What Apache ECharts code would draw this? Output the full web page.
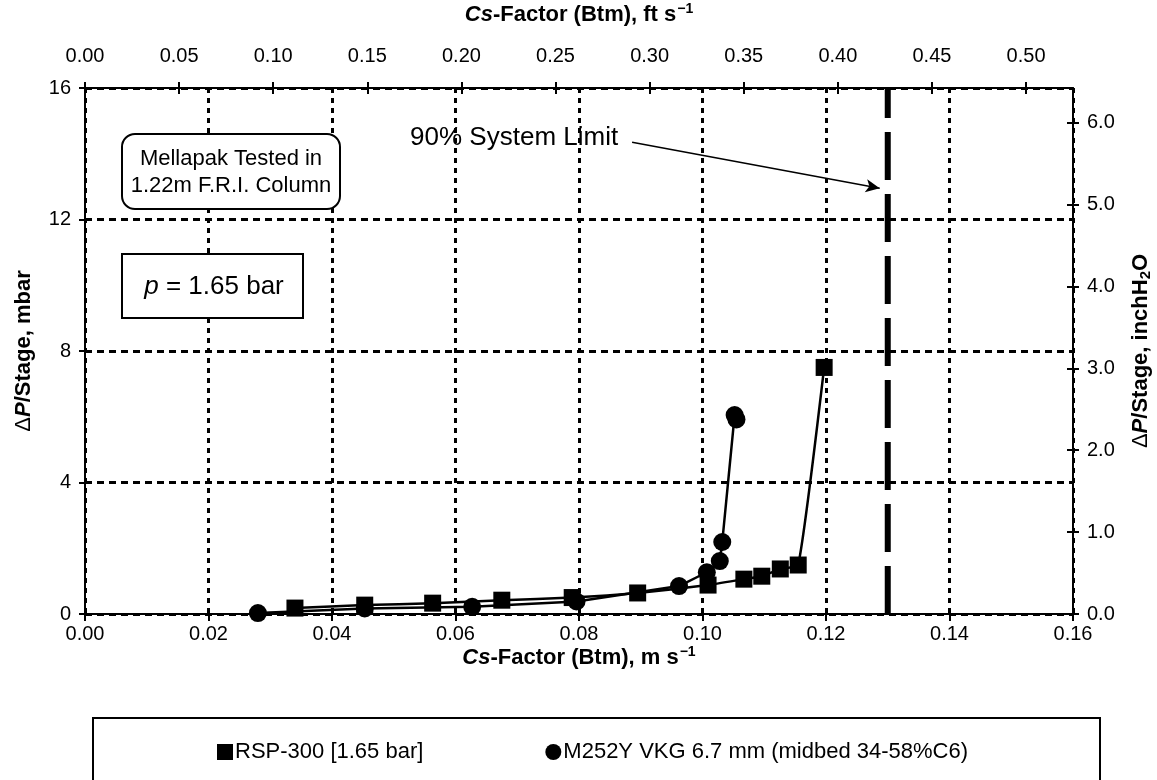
<!DOCTYPE html>
<html><head><meta charset="utf-8">
<script src="https://cdn.jsdelivr.net/npm/echarts@6/dist/echarts.min.js"></script>
<style>html,body{margin:0;padding:0;background:#fff}#c{width:1157px;height:780px}</style>
</head><body><div id="c"></div>
<script>
// ---- data ----
const rspX = [0.0340, 0.0453, 0.0563, 0.0675, 0.0789, 0.0895, 0.1009, 0.1067, 0.1096, 0.1126, 0.1155, 0.1197];
const rspY = [0.18, 0.27, 0.33, 0.42, 0.50, 0.64, 0.88, 1.06, 1.15, 1.37, 1.49, 7.50];
const m252X = [0.0280, 0.0453, 0.0627, 0.0796, 0.0962, 0.1007, 0.1028, 0.1032, 0.1052, 0.1055];
const m252Y = [0.03, 0.17, 0.22, 0.38, 0.85, 1.27, 1.61, 2.19, 6.05, 5.92];
const seriesNames = ['RSP-300 [1.65 bar]', 'M252Y VKG 6.7 mm (midbed 34-58%C6)'];
const systemLimitCs = 0.13;            // m/s
const systemLimitLabel = '90% System Limit';
const arrowFrom = [0.0886, 14.35];     // data coords (m/s, mbar)
const arrowTo = [0.1287, 12.95];
const xMin = 0, xMax = 0.16, xStep = 0.02;
const yMin = 0, yMax = 16, yStep = 4;
const msToFts = 3.28084;
const mbarToInH2O = 0.401463;
const topStep = 0.05, rightStep = 1;
const noteLines = ['Mellapak Tested in', '1.22m F.R.I. Column'];
const pressureNote = ['p', ' = 1.65 bar'];

const F = '"Liberation Sans", Arial, sans-serif';
const zip = (a, b) => a.map((v, i) => [v, b[i]]);
const chart = echarts.init(document.getElementById('c'), null, {renderer: 'canvas'});

const black = '#000';
const axisLineS = {show: true, onZero: false, lineStyle: {color: black, width: 2}};
const labelS = {color: black, fontFamily: F, fontSize: 20};
const TS = 22;
const titleRich = {
  i: {fontFamily: F, fontSize: TS, fontWeight: 'bold', fontStyle: 'italic', color: black},
  b: {fontFamily: F, fontSize: TS, fontWeight: 'bold', color: black},
  d: {fontFamily: F, fontSize: TS, color: black},
  s: {fontFamily: F, fontSize: 14, fontWeight: 'bold', color: black, padding: [0, 0, 12, 1]},
  u: {fontFamily: F, fontSize: 15, fontWeight: 'bold', color: black, padding: [10, 0, 0, 0]}
};
const gridBox = {left: 85, right: 84, top: 88, bottom: 166, outerBoundsMode: 'none'};
const innerTick = {show: true, inside: true, length: 6, lineStyle: {color: black, width: 2}};

const option = {
  backgroundColor: '#fff',
  animation: false,
  grid: [Object.assign({}, gridBox), Object.assign({}, gridBox)],
  legend: {
    left: 212, top: 736, itemWidth: 16, itemHeight: 16, itemGap: 122,
    textStyle: {fontFamily: F, fontSize: 22, color: black, padding: [0, 0, 0, -3]},
    data: [{name: seriesNames[0], icon: 'rect'}, {name: seriesNames[1], icon: 'circle'}]
  },
  xAxis: [
    {
      type: 'value', gridIndex: 0, position: 'bottom', min: xMin, max: xMax, interval: xStep,
      axisLine: axisLineS,
      axisTick: {show: true, length: 7, lineStyle: {color: black, width: 2}},
      axisLabel: Object.assign({formatter: v => v.toFixed(2), margin: 10}, labelS),
      splitLine: {show: true, lineStyle: {color: black, width: 3, type: [5, 5]}},
      name: '{i|Cs}{b|-Factor (Btm), m s}{s|−1}', nameLocation: 'middle', nameGap: 31,
      nameMoveOverlap: false,
      nameTextStyle: {rich: titleRich}
    },
    {
      type: 'value', gridIndex: 0, position: 'top', min: 0, max: xMax * msToFts, interval: topStep,
      axisLine: axisLineS,
      axisTick: {show: true, length: 6, lineStyle: {color: black, width: 2}},
      axisLabel: Object.assign({formatter: v => v.toFixed(2), margin: 22, showMaxLabel: false}, labelS),
      splitLine: {show: false},
      name: '{i|Cs}{b|-Factor (Btm), ft s}{s|−1}', nameLocation: 'middle', nameGap: 60,
      nameTextStyle: {rich: titleRich}
    },
    {
      type: 'value', gridIndex: 1, position: 'top', min: 0, max: xMax * msToFts, interval: topStep,
      axisLine: {show: false, onZero: false}, axisTick: innerTick,
      axisLabel: {show: false}, splitLine: {show: false}
    }
  ],
  yAxis: [
    {
      type: 'value', gridIndex: 0, position: 'left', min: yMin, max: yMax, interval: yStep,
      axisLine: axisLineS,
      axisTick: {show: true, length: 6, lineStyle: {color: black, width: 2}},
      axisLabel: Object.assign({margin: 14}, labelS),
      splitLine: {show: true, lineStyle: {color: black, width: 3, type: [7, 5]}},
      name: '{d|Δ}{i|P}{b|/Stage, mbar}', nameLocation: 'middle', nameGap: 50, nameRotate: 90,
      nameTextStyle: {rich: titleRich}
    },
    {
      type: 'value', gridIndex: 0, position: 'right', min: 0, max: yMax * mbarToInH2O, interval: rightStep,
      axisLine: axisLineS,
      axisTick: {show: true, length: 6, lineStyle: {color: black, width: 2}},
      axisLabel: Object.assign({formatter: v => v.toFixed(1), margin: 14, showMaxLabel: false}, labelS),
      splitLine: {show: false},
      name: '{d|Δ}{i|P}{b|/Stage, inchH}{u|2}{b|O}', nameLocation: 'middle', nameGap: 55, nameRotate: 90,
      nameTextStyle: {rich: titleRich}
    },
    {
      type: 'value', gridIndex: 1, position: 'right', min: 0, max: yMax * mbarToInH2O, interval: rightStep,
      axisLine: {show: false, onZero: false}, axisTick: innerTick,
      axisLabel: {show: false}, splitLine: {show: false}
    }
  ],
  series: [
    {
      name: 'limit', type: 'line', xAxisIndex: 0, yAxisIndex: 0,
      data: [[systemLimitCs, yMin], [systemLimitCs, yMax]],
      symbol: 'none', silent: true, z: 3,
      lineStyle: {color: black, width: 6, type: [48, 14]},
      markLine: {
        silent: true, symbol: ['none', 'arrow'], symbolSize: [10, 14],
        label: {show: false},
        lineStyle: {color: black, width: 1.5, type: 'solid'},
        data: [[{coord: arrowFrom}, {coord: arrowTo}]]
      }
    },
    {
      name: seriesNames[0], type: 'line', xAxisIndex: 0, yAxisIndex: 0,
      data: zip(rspX, rspY), symbol: 'rect', symbolSize: 17, smooth: 0.15,
      itemStyle: {color: black}, lineStyle: {color: black, width: 2.5}, z: 5
    },
    {
      name: seriesNames[1], type: 'line', xAxisIndex: 0, yAxisIndex: 0,
      data: zip(m252X, m252Y), symbol: 'circle', symbolSize: 18,
      itemStyle: {color: black}, lineStyle: {color: black, width: 2.5}, z: 5
    }
  ]
};
chart.setOption(option);

// annotations placed from data coordinates
const p0 = chart.convertToPixel({xAxisIndex: 0, yAxisIndex: 0}, arrowFrom);
chart.setOption({
  graphic: [
    {type: 'rect', shape: {x: 93, y: 718, width: 1007, height: 90}, style: {fill: 'none', stroke: black, lineWidth: 2}, z: 1},
    {type: 'rect', shape: {x: 122, y: 134, width: 218, height: 75, r: 13}, style: {fill: '#fff', stroke: black, lineWidth: 2}, z: 10},
    {type: 'text', x: 231, y: 172, z: 11, style: {text: noteLines.join('\n'), font: '22px ' + F, fill: black, align: 'center', verticalAlign: 'middle', lineHeight: 27}},
    {type: 'rect', shape: {x: 122, y: 254, width: 181, height: 64}, style: {fill: '#fff', stroke: black, lineWidth: 2}, z: 10},
    {type: 'text', x: 214, y: 287, z: 11, style: {
      text: '{i|' + pressureNote[0] + '}{n|' + pressureNote[1] + '}', align: 'center', verticalAlign: 'middle',
      rich: {i: {font: 'italic 26px ' + F, fill: black}, n: {font: '26px ' + F, fill: black}}}},
    {type: 'text', x: p0[0] - 222, y: p0[1] - 4, z: 11, style: {text: systemLimitLabel, font: '26px ' + F, fill: black, align: 'left', verticalAlign: 'middle'}}
  ]
});
</script>
</body></html>
